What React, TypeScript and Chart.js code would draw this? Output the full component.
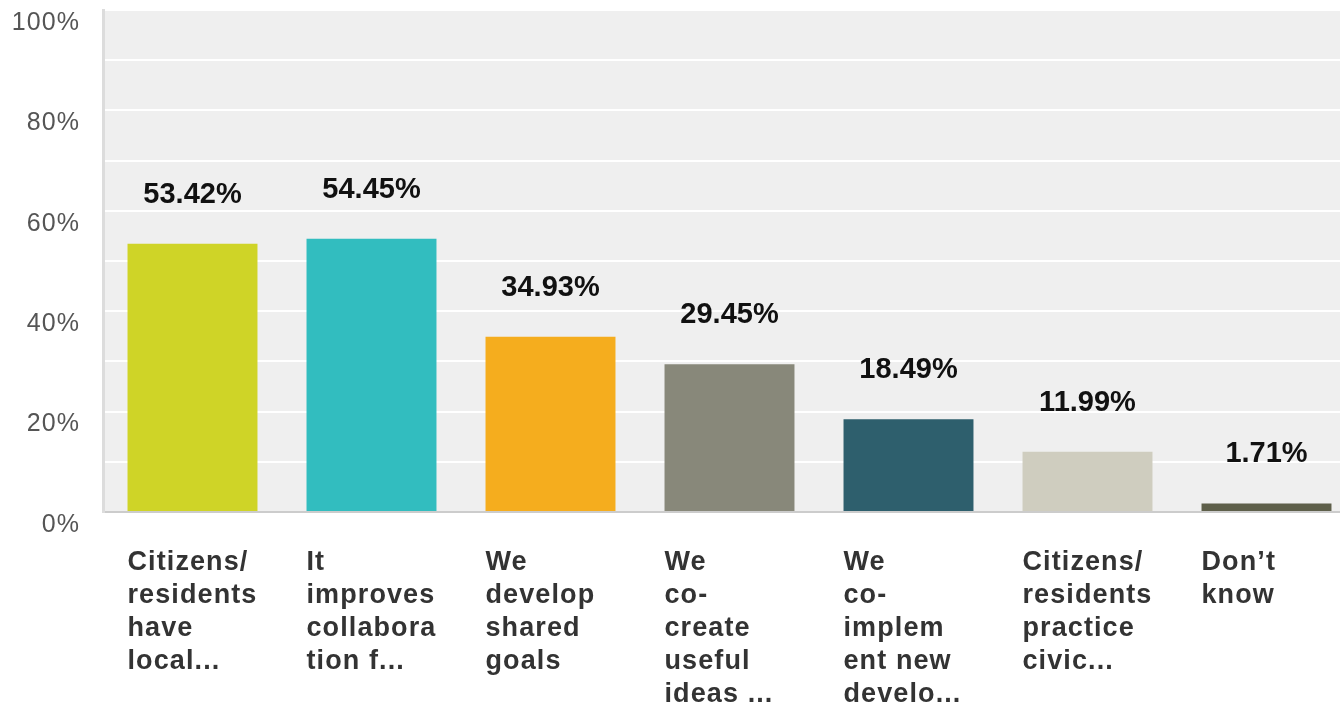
import React, { useEffect, useRef } from "react";
import { Chart, registerables } from "chart.js";

Chart.register(...registerables);

const categories: string[][] = [
  ["Citizens/", "residents", "have", "local..."],
  ["It", "improves", "collabora", "tion f..."],
  ["We", "develop", "shared", "goals"],
  ["We", "co-", "create", "useful", "ideas ..."],
  ["We", "co-", "implem", "ent new", "develo..."],
  ["Citizens/", "residents", "practice", "civic..."],
  ["Don\u2019t", "know"],
];

const values: number[] = [53.42, 54.45, 34.93, 29.45, 18.49, 11.99, 1.71];

const barColors: string[] = [
  "#cfd427",
  "#32bdbf",
  "#f5ad1e",
  "#88887a",
  "#2e5f6d",
  "#cfcdbf",
  "#5e5f4a",
];

const yTickStep = 10;
const yMax = 100;

const FONT = "'Liberation Sans', Arial, sans-serif";

export default function App() {
  const ref = useRef<HTMLCanvasElement | null>(null);

  useEffect(() => {
    document.body.style.margin = "0";
    const canvas = ref.current;
    if (!canvas) return;

    const bgPlugin = {
      id: "plotBg",
      beforeDraw(chart: any) {
        const { ctx, chartArea } = chart;
        ctx.save();
        ctx.fillStyle = "#efefef";
        ctx.fillRect(
          chartArea.left,
          chartArea.top,
          chartArea.right - chartArea.left,
          chartArea.bottom - chartArea.top
        );
        ctx.restore();
        (ctx as any).letterSpacing = "1.1px";
      },
    };

    const valueLabels = {
      id: "valueLabels",
      afterDatasetsDraw(chart: any) {
        const { ctx } = chart;
        const meta = chart.getDatasetMeta(0);
        ctx.save();
        (ctx as any).letterSpacing = "0px";
        ctx.font = `bold 29px ${FONT}`;
        ctx.fillStyle = "#111111";
        ctx.textAlign = "center";
        ctx.textBaseline = "alphabetic";
        meta.data.forEach((el: any, i: number) => {
          ctx.fillText(values[i].toFixed(2) + "%", el.x, el.y - 41);
        });
        ctx.restore();
      },
    };

    const chart = new Chart(canvas, {
      type: "bar",
      data: {
        labels: categories,
        datasets: [
          {
            data: values,
            backgroundColor: barColors,
            borderWidth: 0,
            barPercentage: 0.726,
            categoryPercentage: 1,
          },
        ],
      },
      options: {
        responsive: false,
        animation: false,
        layout: { padding: { top: 10, right: 4, left: 0, bottom: 0 } },
        plugins: {
          legend: { display: false },
          tooltip: { enabled: false },
          title: { display: false },
        },
        scales: {
          x: {
            grid: { display: false, drawTicks: false },
            border: { display: true, color: "#cccccc", width: 2 },
            ticks: {
              autoSkip: false,
              maxRotation: 0,
              minRotation: 0,
              align: "start",
              labelOffset: -65,
              padding: 34,
              color: "#333333",
              font: { family: FONT, size: 27, weight: "bold", lineHeight: "33px" as any },
            },
            afterFit(scale: any) {
              scale.height = 191;
              scale.paddingLeft = 0;
              scale.paddingRight = 0;
            },
          },
          y: {
            min: 0,
            max: yMax,
            grid: { color: "#ffffff", lineWidth: 2, drawTicks: false },
            border: { display: true, color: "#dcdcdc", width: 3 },
            ticks: {
              stepSize: yTickStep,
              padding: 23,
              labelOffset: 13,
              color: "#555555",
              font: { family: FONT, size: 25 },
              callback: (v: any) => (Number(v) % 20 === 0 ? v + "%" : ""),
            },
            afterFit(scale: any) {
              scale.width = 103;
              scale.paddingTop = 0;
              scale.paddingBottom = 0;
            },
          },
        },
      },
      plugins: [bgPlugin, valueLabels],
    });

    return () => chart.destroy();
  }, []);

  return (
    <div
      style={{
        position: "absolute",
        left: 0,
        top: 0,
        width: 1340,
        height: 703,
        overflow: "hidden",
        background: "#ffffff",
      }}
    >
      <canvas ref={ref} width={1360} height={703} style={{ width: 1360, height: 703 }} />
    </div>
  );
}
